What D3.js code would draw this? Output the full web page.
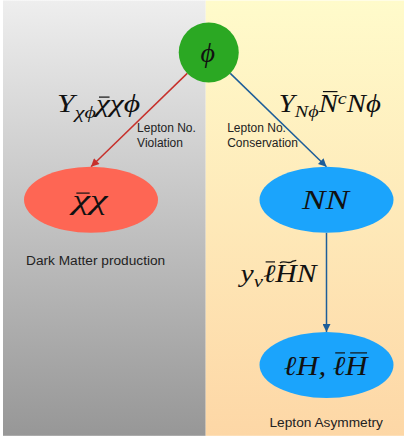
<!DOCTYPE html>
<html><head><meta charset="utf-8">
<script src="https://cdn.jsdelivr.net/npm/d3@7"></script>
<style>html,body{margin:0;padding:0;background:#fff}svg{display:block}</style>
</head><body>
<script>
// ---- data ----
const panelIds = ["dm", "lepton"];
const panelCaptions = ["Dark Matter production", "Lepton Asymmetry"];

const nodeIds = ["phi", "chichi", "NN", "lH"];
const nodeCols = ["mid", "left", "right", "right"];
const nodeRows = ["source", "product", "product", "final"];
const nodeShapes = ["circle", "ellipse", "ellipse", "ellipse"];
// label segments: [text, role, accent] role: "n" normal, "sub", "sup"; accent: "bar" (low glyph), "barT" (tall glyph), "tilde"
const nodeLabels = [
  [["\u03D5", "n"]],
  [["\u03C7", "n", "bar"], ["\u03C7", "n"]],
  [["NN", "n"]],
  [["\u2113H,\u2009", "n"], ["\u2113", "n", "barT"], ["H", "n", "barT"]]
];

const edgeFrom = ["phi", "phi", "NN"];
const edgeTo = ["chichi", "NN", "lH"];
const edgeKinds = ["violation", "conservation", "conservation"];
const edgeCouplings = [
  [["Y", "n"], ["\u03C7\u03D5", "sub"], ["\u03C7", "n", "bar"], ["\u03C7\u03D5", "n"]],
  [["Y", "n"], ["N\u03D5", "sub"], ["N", "n", "barT"], ["c", "sup"], ["N\u03D5", "n"]],
  [["y", "n"], ["\u03BD", "sub"], ["\u2113", "n", "barT"], ["H", "n", "tilde"], ["N", "n"]]
];
const edgeNotes = [["Lepton No.", "Violation"], ["Lepton No.", "Conservation"], []];

// ---- drawing ----
const W = 404, H = 441;
const svg = d3.select("body").append("svg").attr("width", W).attr("height", H);
const defs = svg.append("defs");

const panelColors = d3.scaleOrdinal().domain(panelIds).range([["#eeeeee", "#979797"], ["#fffbcb", "#fdd7a6"]]);
panelIds.forEach(p => {
  const g = defs.append("linearGradient").attr("id", "grad-" + p).attr("x1", 0).attr("y1", 0).attr("x2", 0).attr("y2", 1);
  g.append("stop").attr("offset", "0%").attr("stop-color", panelColors(p)[0]);
  g.append("stop").attr("offset", "100%").attr("stop-color", panelColors(p)[1]);
});

const xPanel = d3.scaleBand().domain(panelIds).range([3, 408.4]).padding(0);
const panelTop = 0.5, panelBottom = 435.8;

svg.selectAll("rect.panel").data(panelIds).join("rect")
  .attr("class", "panel")
  .attr("x", d => xPanel(d)).attr("y", panelTop)
  .attr("width", xPanel.bandwidth()).attr("height", panelBottom - panelTop)
  .attr("fill", d => `url(#grad-${d})`);

// node scales
const x = d3.scalePoint().domain(["left", "mid", "right"]).range([91, 326.5]);
const y = d3.scaleOrdinal().domain(["source", "product", "final"]).range([52.5, 199.8, 365]);
const nodeColor = d3.scaleOrdinal().domain(nodeIds).range(["#2ba823", "#fe6654", "#1ba4fc", "#1ba4fc"]);
const edgeColor = d3.scaleOrdinal().domain(["violation", "conservation"]).range(["#c7302b", "#1c5d99"]);
const R = 30, RX = 67, RY = 33;

const nodes = nodeIds.map((id, i) => ({id, cx: x(nodeCols[i]), cy: y(nodeRows[i]), shape: nodeShapes[i], label: nodeLabels[i]}));
const byId = Object.fromEntries(nodes.map(n => [n.id, n]));

["violation", "conservation"].forEach(k => {
  defs.append("marker").attr("id", "arr-" + k)
    .attr("viewBox", "0 0 10 10").attr("refX", 10).attr("refY", 5)
    .attr("markerUnits", "userSpaceOnUse").attr("markerWidth", 9).attr("markerHeight", 8)
    .attr("orient", "auto")
    .append("path").attr("d", "M0,0 L10,5 L0,10 Z").attr("fill", edgeColor(k));
});

function anchorOut(n, tx, ty) {
  if (n.shape === "circle") {
    const dx = tx - n.cx, dy = ty - n.cy, L = Math.hypot(dx, dy);
    return [n.cx + dx / L * R, n.cy + dy / L * R];
  }
  return [n.cx, n.cy + RY];
}

const edges = edgeFrom.map((f, i) => {
  const a = byId[f], b = byId[edgeTo[i]];
  const end = [b.cx, b.cy - RY];
  const start = anchorOut(a, end[0], end[1]);
  if (a.shape !== "circle") { start[0] = end[0]; }
  return {start, end, kind: edgeKinds[i], coupling: edgeCouplings[i], note: edgeNotes[i], i};
});

svg.selectAll("line.edge").data(edges).join("line")
  .attr("class", "edge")
  .attr("x1", d => d.start[0]).attr("y1", d => d.start[1])
  .attr("x2", d => d.end[0]).attr("y2", d => d.end[1])
  .attr("stroke", d => edgeColor(d.kind)).attr("stroke-width", 1.5)
  .attr("marker-end", d => `url(#arr-${d.kind})`);

// nodes
nodes.forEach(n => {
  if (n.shape === "circle") {
    svg.append("circle").attr("cx", n.cx).attr("cy", n.cy).attr("r", R).attr("fill", nodeColor(n.id));
  } else {
    svg.append("ellipse").attr("cx", n.cx).attr("cy", n.cy).attr("rx", RX).attr("ry", RY).attr("fill", nodeColor(n.id));
  }
});

const mathFont = "'Liberation Serif', 'DejaVu Serif', serif";
const accentLayer = svg.append("g").attr("class", "accents");
function mathText(sel, segs, size, width, baseY) {
  segs.forEach(([t, role]) => {
    const ts = sel.append("tspan").text(t);
    if (role === "sub" || role === "sup") ts.attr("font-size", size * 0.7);
    else ts.attr("font-size", size);
  });
  let shift = 0;
  sel.selectAll("tspan").each(function(_, j) {
    const role = segs[j][1];
    const target = role === "sub" ? size * 0.22 : role === "sup" ? -size * 0.3 : 0;
    d3.select(this).attr("dy", target - shift);
    shift = target;
  });
  if (width) sel.attr("textLength", width).attr("lengthAdjust", "spacingAndGlyphs");
  // accents
  const node = sel.node();
  let idx = 0;
  segs.forEach(([t, role, accent]) => {
    if (accent) {
      const ext = node.getExtentOfChar(idx);
      const x0 = ext.x + ext.width * 0.22, x1 = ext.x + ext.width * 0.98;
      const h = accent === "bar" ? 0.6 : 0.8;
      const ay = baseY - size * h;
      if (accent === "tilde") {
        const xm = (x0 + x1) / 2, w = (x1 - x0) * 0.5;
        accentLayer.append("path")
          .attr("d", `M${xm - w},${ay + 1} C${xm - w * 0.5},${ay - 2.5} ${xm},${ay + 3} ${xm + w * 0.5},${ay - 0.5} L${xm + w},${ay - 1.5}`)
          .attr("fill", "none").attr("stroke", "#111").attr("stroke-width", 1.3);
      } else {
        accentLayer.append("line").attr("x1", x0).attr("x2", x1).attr("y1", ay).attr("y2", ay)
          .attr("stroke", "#111").attr("stroke-width", 1.2);
      }
    }
    idx += t.length;
  });
}

const nodeLabelWidths = [null, 35, 47, 84];
const nodeLabelSizes = [28, 27, 27, 27];
nodes.forEach((n, i) => {
  const by = n.cy + 9.5;
  const t = svg.append("text").attr("x", n.cx - 1).attr("y", by)
    .attr("text-anchor", "middle").attr("font-family", mathFont).attr("font-style", "italic")
    .attr("fill", "#111");
  mathText(t, n.label, nodeLabelSizes[i], nodeLabelWidths[i], by);
});

// edge coupling labels
const couplingWidths = [83, 102, 76];
edges.forEach(e => {
  const mx = (e.start[0] + e.end[0]) / 2, my = (e.start[1] + e.end[1]) / 2;
  let tx, ty, anchor;
  if (e.i === 0) { tx = mx + 1; ty = my - 8; anchor = "end"; }
  else if (e.i === 1) { tx = mx + 0.5; ty = my - 8.5; anchor = "start"; }
  else { tx = mx - 10; ty = my - 0.5; anchor = "end"; }
  const t = svg.append("text").attr("x", tx).attr("y", ty).attr("text-anchor", anchor)
    .attr("font-family", mathFont).attr("font-style", "italic").attr("fill", "#111");
  mathText(t, e.coupling, 25, couplingWidths[e.i], ty);
});
accentLayer.raise();

// notes
const sansFont = "'Liberation Sans', Arial, Helvetica, sans-serif";
edges.forEach(e => {
  if (!e.note.length) return;
  const mx = (e.start[0] + e.end[0]) / 2;
  const t = svg.append("text").attr("font-family", sansFont).attr("font-size", 12).attr("fill", "#222");
  const tx = e.i === 0 ? mx - 2 : xPanel("lepton") + 21.5;
  e.note.forEach((line, j) => {
    t.append("tspan").attr("x", tx).attr("y", 131.7 + j * 15).text(line);
  });
});

// captions
svg.selectAll("text.caption").data(panelIds).join("text")
  .attr("class", "caption")
  .attr("x", (d, i) => i === 0 ? 26 : 269.5)
  .attr("y", (d, i) => i === 0 ? 265 : 426.5)
  .attr("font-family", sansFont).attr("font-size", 13.7).attr("fill", "#222")
  .text((d, i) => panelCaptions[i]);
</script>
</body></html>
